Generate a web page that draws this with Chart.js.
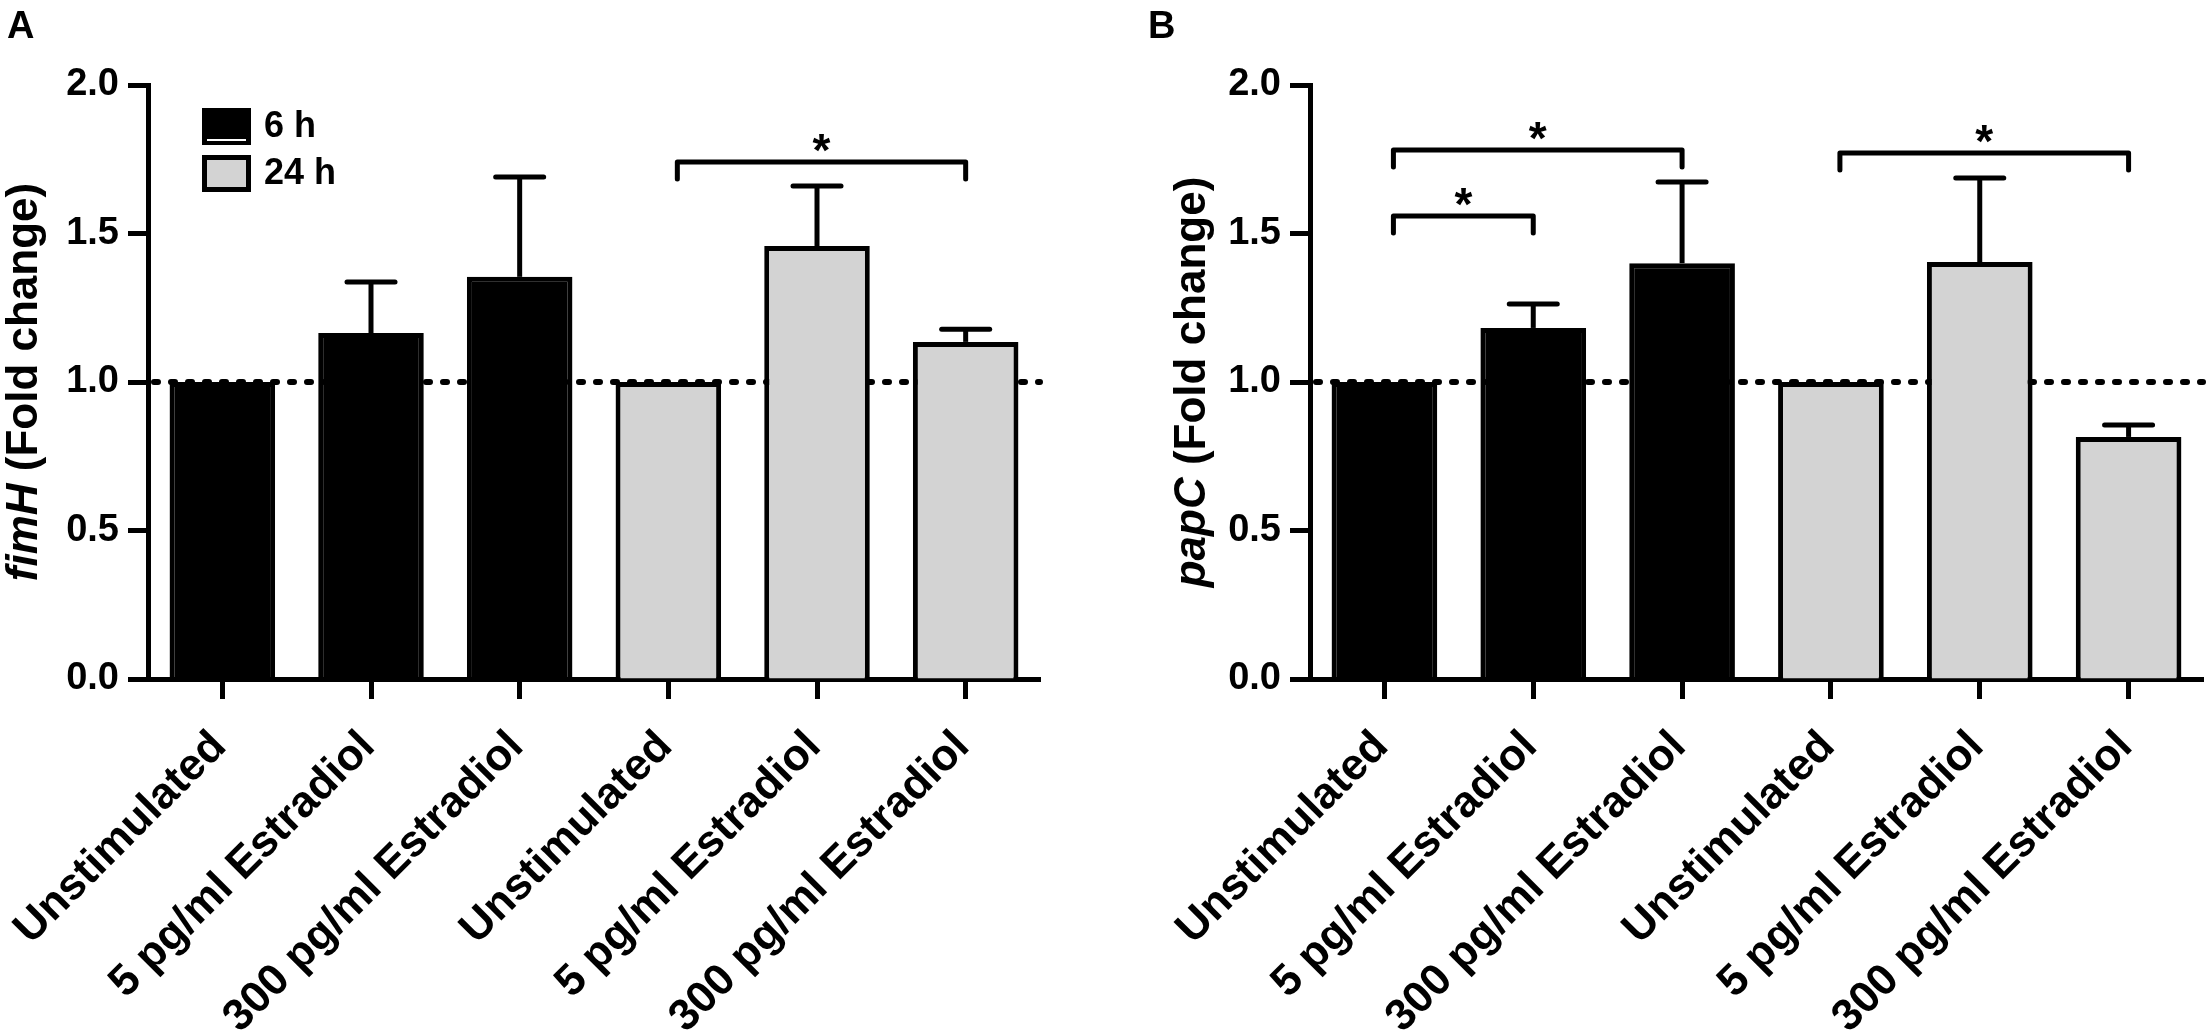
<!DOCTYPE html>
<html>
<head>
<meta charset="utf-8">
<script src="https://cdn.jsdelivr.net/npm/chart.js@4.4.1/dist/chart.umd.min.js"></script>
<style>
  html, body { margin:0; padding:0; background:#fff; overflow:hidden; width:2208px; height:1035px; }
  canvas { position:absolute; top:0; }
</style>
</head>
<body>
<canvas id="chartA" width="1104" height="1035" style="left:0px"></canvas>
<canvas id="chartB" width="1104" height="1035" style="left:1104px"></canvas>
<script>
// ---------------- DATA ----------------
const categories = ['Unstimulated', '5 pg/ml Estradiol', '300 pg/ml Estradiol',
                    'Unstimulated', '5 pg/ml Estradiol', '300 pg/ml Estradiol'];
const seriesNames = ['6 h', '24 h'];
const yTicks = [0.0, 0.5, 1.0, 1.5, 2.0];
const referenceLevel = 1.0;

// Panel A: fimH fold change (mean) and SEM
const fimH_6h  = [1.00, 1.165, 1.354, null, null, null];
const fimH_24h = [null, null, null, 1.00, 1.458, 1.135];
const fimH_err = [0, 0.172, 0.336, 0, 0.202, 0.043];
// significance brackets: [fromIndex, toIndex, level]
const fimH_sig = [[3, 5, 1.741]];

// Panel B: papC fold change (mean) and SEM
const papC_6h  = [1.00, 1.182, 1.400, null, null, null];
const papC_24h = [null, null, null, 1.00, 1.404, 0.815];
const papC_err = [0, 0.081, 0.273, 0, 0.283, 0.040];
const papC_sig = [[0, 1, 1.559], [0, 2, 1.781], [3, 5, 1.771]];

// ---------------- STYLE ----------------
const FAM = '"Liberation Sans", Arial, Helvetica, sans-serif';
const BLACK = '#000000';
const GRAY = '#d3d3d3';

const annotPlugin = {
  id: 'annot',
  beforeDatasetsDraw(chart, args, o) {
    const { ctx, chartArea, scales: { y } } = chart;
    const yp = y.getPixelForValue(o.baseline);
    ctx.save();
    ctx.strokeStyle = BLACK;
    ctx.lineWidth = 6;
    ctx.lineCap = 'round';
    ctx.setLineDash([4, 13]);
    ctx.beginPath();
    ctx.moveTo(chartArea.left + 6, yp);
    ctx.lineTo(chartArea.right, yp);
    ctx.stroke();
    ctx.restore();
  },
  afterDatasetsDraw(chart, args, o) {
    const { ctx, scales: { x, y } } = chart;
    ctx.save();
    ctx.strokeStyle = BLACK;
    ctx.fillStyle = BLACK;
    // error bars (upper only)
    o.err.forEach((e, i) => {
      if (!e) return;
      const v = o.means[i];
      const px = x.getPixelForValue(i);
      const top = y.getPixelForValue(v);
      const cap = y.getPixelForValue(v + e);
      ctx.lineWidth = 5;
      ctx.lineCap = 'butt';
      ctx.beginPath(); ctx.moveTo(px, top); ctx.lineTo(px, cap); ctx.stroke();
      ctx.lineCap = 'round';
      ctx.beginPath(); ctx.moveTo(px - 24, cap); ctx.lineTo(px + 24, cap); ctx.stroke();
    });
    // significance brackets
    o.sig.forEach(([a, b, lvl]) => {
      const x1 = x.getPixelForValue(a) + 9;
      const x2 = x.getPixelForValue(b);
      const yt = y.getPixelForValue(lvl);
      ctx.lineWidth = 5;
      ctx.lineCap = 'round';
      ctx.lineJoin = 'round';
      ctx.beginPath();
      ctx.moveTo(x1, yt + 17); ctx.lineTo(x1, yt); ctx.lineTo(x2, yt); ctx.lineTo(x2, yt + 17);
      ctx.stroke();
      ctx.font = `bold 46px ${FAM}`;
      ctx.textAlign = 'center';
      ctx.textBaseline = 'alphabetic';
      ctx.fillText('*', (x1 + x2) / 2, yt + 4);
    });
    ctx.restore();
  },
  afterDraw(chart, args, o) {
    const { ctx, chartArea } = chart;
    ctx.save();
    ctx.fillStyle = BLACK;
    // panel letter
    ctx.font = `bold 38px ${FAM}`;
    ctx.textAlign = 'left';
    ctx.textBaseline = 'alphabetic';
    ctx.fillText(o.letter, o.letterX, 38);
    // y-axis title (italic gene name + normal rest)
    const yc = (chartArea.top + chartArea.bottom) / 2;
    ctx.translate(o.titleX, yc);
    ctx.rotate(-Math.PI / 2);
    const fI = `italic bold 44px ${FAM}`, fN = `bold 44px ${FAM}`;
    ctx.font = fI; const w1 = ctx.measureText(o.gene).width;
    ctx.font = fN; const w2 = ctx.measureText(o.titleRest).width;
    const sx = -(w1 + w2) / 2;
    ctx.font = fI; ctx.fillText(o.gene, sx, 0);
    ctx.font = fN; ctx.fillText(o.titleRest, sx + w1, 0);
    ctx.restore();

    // legend
    if (o.legend) {
      ctx.save();
      const ds = chart.data.datasets;
      const bx = 202, bw = 49, bh = 37;
      const rows = [108, 155];
      ds.forEach((d, k) => {
        const by = rows[k];
        ctx.fillStyle = d.backgroundColor;
        ctx.fillRect(bx, by, bw, bh);
        ctx.strokeStyle = BLACK;
        ctx.lineWidth = 5;
        ctx.strokeRect(bx + 2.5, by + 2.5, bw - 5, bh - 5);
        if (k === 0) {
          ctx.strokeStyle = '#ffffff';
          ctx.lineWidth = 2;
          ctx.beginPath(); ctx.moveTo(bx + 5, by + 32); ctx.lineTo(bx + 44, by + 32); ctx.stroke();
        }
        ctx.fillStyle = BLACK;
        ctx.font = `bold 36px ${FAM}`;
        ctx.textAlign = 'left';
        ctx.textBaseline = 'middle';
        ctx.fillText(d.label, 264, by + bh / 2 + 1);
      });
      ctx.restore();
    }
  }
};

function makeChart(id, d6, d24, err, sig, cfg) {
  const means = d6.map((v, i) => (v !== null ? v : d24[i]));
  return new Chart(document.getElementById(id), {
    type: 'bar',
    data: {
      labels: categories,
      datasets: [
        { label: seriesNames[0], data: d6, backgroundColor: BLACK, borderColor: BLACK,
          borderWidth: 5, grouped: false, barPercentage: 0.71, categoryPercentage: 1.0 },
        { label: seriesNames[1], data: d24, backgroundColor: GRAY, borderColor: BLACK,
          borderWidth: 5, grouped: false, barPercentage: 0.71, categoryPercentage: 1.0 }
      ]
    },
    plugins: [annotPlugin],
    options: {
      responsive: false,
      animation: false,
      devicePixelRatio: 1,
      layout: { padding: { top: 85, right: cfg.padRight, left: 0, bottom: 0 } },
      plugins: {
        legend: { display: false },
        tooltip: { enabled: false },
        annot: { baseline: referenceLevel, err, means, sig, letter: cfg.letter, letterX: cfg.letterX,
                 gene: cfg.gene, titleRest: ' (Fold change)', titleX: cfg.titleX, legend: cfg.legend }
      },
      scales: {
        x: {
          type: 'category',
          offset: true,
          grid: { display: true, drawOnChartArea: false, drawTicks: true, tickLength: 20,
                  tickWidth: 5, tickColor: BLACK, offset: false },
          border: { display: true, color: BLACK, width: 5 },
          ticks: { color: BLACK, font: { family: FAM, size: 44, weight: 'bold' },
                   minRotation: 45, maxRotation: 45, autoSkip: false, padding: 22, labelOffset: -3 },
          afterFit(s) { s.height = 356; s.paddingLeft = 0; s.paddingRight = 0; }
        },
        y: {
          min: 0, max: 2,
          afterBuildTicks(s) { s.ticks = yTicks.map(v => ({ value: v })); },
          grid: { display: true, drawOnChartArea: false, drawTicks: true, tickLength: 20,
                  tickWidth: 5, tickColor: BLACK },
          border: { display: true, color: BLACK, width: 5 },
          ticks: { color: BLACK, font: { family: FAM, size: 38, weight: 'bold' }, padding: 9,
                   callback: v => Number(v).toFixed(1) },
          afterFit(s) { s.width = cfg.axisWidth; }
        }
      }
    }
  });
}

makeChart('chartA', fimH_6h, fimH_24h, fimH_err, fimH_sig,
  { letter: 'A', letterX: 7, gene: 'fimH', titleX: 37, legend: true, padRight: 64, axisWidth: 148 });
makeChart('chartB', papC_6h, papC_24h, papC_err, papC_sig,
  { letter: 'B', letterX: 44, gene: 'papC', titleX: 101, legend: false, padRight: 5, axisWidth: 206 });
</script>
</body>
</html>
